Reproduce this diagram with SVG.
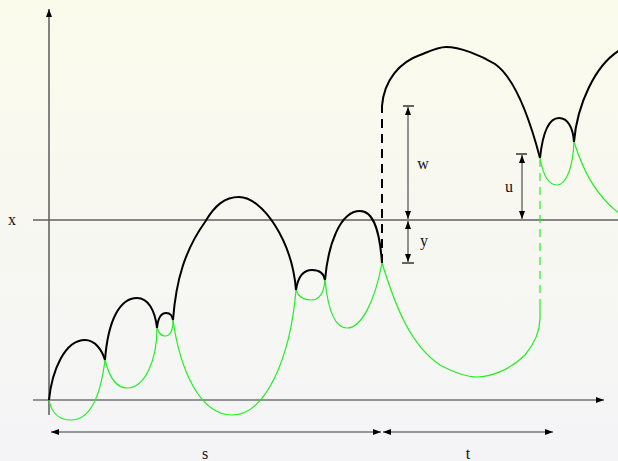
<svg xmlns="http://www.w3.org/2000/svg" width="618" height="461" viewBox="0 0 618 461">
<defs>
<linearGradient id="bg" x1="0" y1="0" x2="0" y2="1">
<stop offset="0" stop-color="#fbfbec"/>
<stop offset="1" stop-color="#f4f4f7"/>
</linearGradient>
<marker id="ah" viewBox="0 0 8 6" refX="8" refY="3" markerWidth="8" markerHeight="6" markerUnits="userSpaceOnUse" orient="auto-start-reverse">
<path d="M0,0 L8,3 L0,6 z" fill="#000"/>
</marker>
</defs>
<style>
.axis{stroke:#333;stroke-width:1.2;fill:none}
.xline{stroke:#606060;stroke-width:1.6;fill:none}
.dim{stroke:#777;stroke-width:1.6;fill:none}
.tick{stroke:#000;stroke-width:1.2}
.blk{stroke:#000;stroke-width:2;fill:none;stroke-linejoin:round}
.grn{stroke:#22ee22;stroke-width:1.2;fill:none}
.lbl{font-family:"Liberation Serif","Times New Roman",serif;font-size:16px;fill:#111;text-anchor:middle}
</style>
<rect width="618" height="461" fill="url(#bg)"/>
<g id="axes">
<line class="axis" x1="49" y1="415" x2="49" y2="9" marker-end="url(#ah)"/>
<line class="axis" x1="33" y1="400" x2="604" y2="400" marker-end="url(#ah)"/>
<line class="xline" x1="33" y1="220" x2="618" y2="220"/>
</g>
<g id="green-curve">
<path class="grn" d="M49,400 C52,415 60,420 71,420 C88,420 100,400 105,360"/>
<path class="grn" d="M105,360 C110,380 118,388 127,388 C145,388 157,360 157,328"/>
<path class="grn" d="M157,328 C159,334 162,336 165,336 C170,336 173,330 173,320"/>
<path class="grn" d="M173,320 C180,370 200,415 232,415 C265,415 290,360 296,290"/>
<path class="grn" d="M296,290 C298,296 303,300 311,300 C320,300 324,292 325,280"/>
<path class="grn" d="M325,280 C328,310 335,328 347,328 C362,328 375,300 382,263"/>
<path class="grn" d="M382,263 C395,305 410,345 440,365 C455,373 468,377 477,377 C490,377 510,370 525,355 C535,343 540,330 540,318 L540,307"/>
<path class="grn" d="M540,307 L540,160" stroke-dasharray="8,6"/>
<path class="grn" d="M540,158 C543,175 549,185 557,185 C567,185 573,165 574,142"/>
<path class="grn" d="M574,142 C583,170 595,195 620,214"/>
</g>
<g id="black-curve">
<path class="blk" d="M49,400 C52,370 65,340 85,340 C95,340 102,350 105,360"/>
<path class="blk" d="M105,360 C108,320 120,298 137,298 C148,298 155,310 157,328"/>
<path class="blk" d="M157,328 C158,318 161,313 166,313 C171,313 172,316 173,320"/>
<path class="blk" d="M173,320 C176,280 185,250 205,222 C215,205 225,197 239,197 C262,197 292,240 296,290"/>
<path class="blk" d="M296,290 C298,276 303,270 312,270 C320,270 324,274 325,280"/>
<path class="blk" d="M325,280 C328,245 340,211 360,211 C375,211 380,235 382,263"/>
<path class="blk" d="M382,263 L382,106" stroke-dasharray="9,6"/>
<path class="blk" d="M382,106 C384,80 400,62 420,55 C430,51 438,47 446,47 C460,47 480,55 495,64 C515,78 530,120 540,158"/>
<path class="blk" d="M540,158 C543,130 550,118 559,118 C568,118 573,128 574,142"/>
<path class="blk" d="M574,142 C577,105 595,65 620,50"/>
</g>
<g id="connectors">
<line class="dim" x1="408" y1="107" x2="408" y2="219" marker-start="url(#ah)" marker-end="url(#ah)"/>
<line class="tick" x1="403" y1="106" x2="414" y2="106"/>
<line class="dim" x1="408" y1="221" x2="408" y2="262" marker-start="url(#ah)" marker-end="url(#ah)"/>
<line class="tick" x1="402" y1="263" x2="414" y2="263"/>
<line class="dim" x1="522" y1="155" x2="522" y2="219" marker-start="url(#ah)" marker-end="url(#ah)"/>
<line class="tick" x1="516" y1="154" x2="527" y2="154"/>
<line class="dim" x1="51" y1="432" x2="381" y2="432" marker-start="url(#ah)" marker-end="url(#ah)"/>
<line class="dim" x1="383" y1="432" x2="553" y2="432" marker-start="url(#ah)" marker-end="url(#ah)"/>
</g>
<g id="labels">
<text class="lbl" x="12" y="225">x</text>
<text class="lbl" x="423" y="169">w</text>
<text class="lbl" x="424" y="246">y</text>
<text class="lbl" x="509" y="192">u</text>
<text class="lbl" x="205" y="459">s</text>
<text class="lbl" x="468" y="459">t</text>
</g>
</svg>
